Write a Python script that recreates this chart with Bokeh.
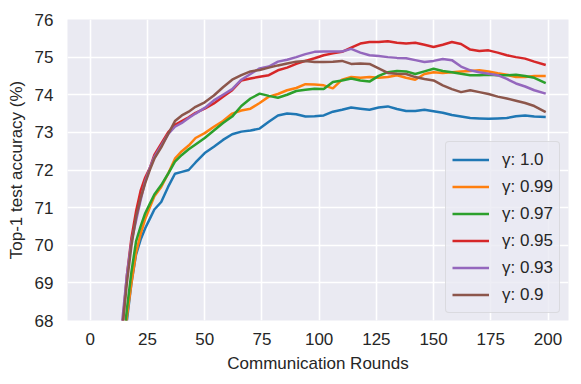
from bokeh.plotting import figure
from bokeh.models import Range1d, FixedTicker, Legend, LegendItem
from bokeh.embed import file_html
from bokeh.resources import INLINE

ROUNDS = [12, 14, 16, 18, 20, 22, 24, 26, 28, 31, 34, 37, 40, 43, 46, 50, 54, 58, 62, 66, 70,
          74, 78, 82, 86, 90, 94, 98, 102, 106, 110, 114, 118, 122, 126, 130, 134, 138, 142,
          146, 150, 154, 158, 162, 166, 170, 174, 178, 182, 186, 190, 194, 199]

ACC_100 = [65.5, 66.8, 68.0, 69.0, 69.75, 70.15, 70.45, 70.7, 70.95, 71.15, 71.55, 71.9, 71.95,
           72.0, 72.2, 72.45, 72.62, 72.8, 72.95, 73.02, 73.05, 73.1, 73.28, 73.45, 73.5, 73.48,
           73.42, 73.43, 73.45, 73.55, 73.6, 73.66, 73.63, 73.6, 73.66, 73.69, 73.62, 73.57,
           73.57, 73.6, 73.56, 73.52, 73.46, 73.42, 73.38, 73.37, 73.36, 73.37, 73.38, 73.43,
           73.45, 73.42, 73.41]
ACC_099 = [65.8, 67.0, 68.1, 69.0, 69.8, 70.3, 70.7, 71.0, 71.3, 71.55, 71.9, 72.3, 72.5, 72.65,
           72.85, 72.98, 73.15, 73.3, 73.5, 73.58, 73.63, 73.78, 73.95, 74.02, 74.12, 74.18, 74.28,
           74.27, 74.25, 74.17, 74.4, 74.47, 74.45, 74.47, 74.45, 74.47, 74.52, 74.45, 74.4, 74.55,
           74.6, 74.58, 74.6, 74.62, 74.63, 74.65, 74.62, 74.57, 74.53, 74.47, 74.47, 74.5, 74.5]
ACC_097 = [65.9, 67.1, 68.3, 69.3, 70.1, 70.5, 70.85, 71.1, 71.35, 71.6, 71.9, 72.22, 72.4, 72.55,
           72.68, 72.85, 73.05, 73.25, 73.42, 73.7, 73.9, 74.03, 73.97, 73.92, 74.0, 74.1, 74.13,
           74.16, 74.15, 74.34, 74.38, 74.43, 74.38, 74.35, 74.5, 74.6, 74.63, 74.62, 74.55, 74.62,
           74.69, 74.63, 74.6, 74.56, 74.52, 74.52, 74.53, 74.52, 74.52, 74.53, 74.5, 74.45, 74.31]
ACC_095 = [66.3, 67.8, 69.2, 70.2, 70.9, 71.45, 71.8, 72.05, 72.4, 72.7, 73.0, 73.2, 73.3, 73.4,
           73.52, 73.63, 73.77, 73.95, 74.12, 74.38, 74.43, 74.48, 74.52, 74.65, 74.72, 74.82, 74.9,
           74.97, 75.05, 75.1, 75.14, 75.25, 75.36, 75.4, 75.4, 75.42, 75.38, 75.36, 75.38, 75.33,
           75.27, 75.33, 75.4, 75.35, 75.2, 75.16, 75.18, 75.12, 75.05, 75.0, 74.96, 74.88, 74.79]
ACC_093 = [66.4, 68.0, 69.2, 70.1, 70.65, 71.2, 71.7, 72.05, 72.35, 72.65, 72.95, 73.15, 73.25,
           73.38, 73.5, 73.65, 73.85, 74.0, 74.15, 74.4, 74.55, 74.7, 74.75, 74.88, 74.93, 75.0,
           75.08, 75.14, 75.15, 75.15, 75.15, 75.22, 75.12, 75.05, 75.03, 75.0, 74.98, 74.97, 74.92,
           74.87, 74.9, 74.95, 74.92, 74.75, 74.65, 74.6, 74.56, 74.52, 74.42, 74.3, 74.22, 74.12,
           74.03]
ACC_090 = [66.2, 67.8, 69.0, 70.0, 70.75, 71.25, 71.65, 72.0, 72.3, 72.6, 72.95, 73.3, 73.45,
           73.55, 73.68, 73.8, 73.98, 74.2, 74.4, 74.52, 74.62, 74.66, 74.72, 74.78, 74.83, 74.88,
           74.9, 74.87, 74.87, 74.88, 74.9, 74.82, 74.83, 74.82, 74.7, 74.58, 74.56, 74.55, 74.47,
           74.42, 74.38, 74.25, 74.15, 74.07, 74.12, 74.07, 74.02, 73.95, 73.9, 73.84, 73.78,
           73.7, 73.54]

LABELS = ["γ: 1.0", "γ: 0.99", "γ: 0.97", "γ: 0.95", "γ: 0.93", "γ: 0.9"]
SERIES = [ACC_100, ACC_099, ACC_097, ACC_095, ACC_093, ACC_090]
COLORS = ["#1f77b4", "#ff7f0e", "#2ca02c", "#d62728", "#9467bd", "#8c564b"]
X_TICKS = [0, 25, 50, 75, 100, 125, 150, 175, 200]
Y_TICKS = [68, 69, 70, 71, 72, 73, 74, 75, 76]

FONT = "Liberation Sans"
TXT = "#262626"
FS = "17px"

p = figure(width=581, height=384, output_backend="svg", toolbar_location=None,
           x_range=Range1d(-9.95, 208.95), y_range=Range1d(68, 76),
           min_border_left=67, min_border_right=13, min_border_top=19, min_border_bottom=64)
p.background_fill_color = "#EAEAF2"
p.border_fill_color = "white"
p.outline_line_color = None

for ax in (p.xaxis, p.yaxis):
    ax.axis_line_color = None
    ax.major_tick_line_color = None
    ax.minor_tick_line_color = None
    ax.major_tick_out = 0
    ax.major_tick_in = 0
    ax.minor_tick_out = 0
    ax.major_label_text_font = FONT
    ax.major_label_text_font_size = FS
    ax.major_label_text_color = TXT
    ax.axis_label_text_font = FONT
    ax.axis_label_text_font_size = FS
    ax.axis_label_text_font_style = "normal"
    ax.axis_label_text_color = TXT

p.xaxis.ticker = FixedTicker(ticks=X_TICKS)
p.yaxis.ticker = FixedTicker(ticks=Y_TICKS)
p.xaxis.axis_label = "Communication Rounds"
p.yaxis.axis_label = "Top-1 test accuracy (%)"
p.xaxis.major_label_standoff = 12
p.yaxis.major_label_standoff = 14
p.xaxis.axis_label_standoff = 6
p.yaxis.axis_label_standoff = 6

p.grid.grid_line_color = "white"
p.grid.grid_line_width = 1.6
p.xgrid.ticker = FixedTicker(ticks=X_TICKS)
p.ygrid.ticker = FixedTicker(ticks=Y_TICKS)

items = []
for lab, ys, col in zip(LABELS, SERIES, COLORS):
    r = p.line(ROUNDS, ys, line_color=col, line_width=2.5)
    items.append(LegendItem(label=lab, renderers=[r]))

legend = Legend(items=items, location=(378, 7), margin=0, padding=6, spacing=4,
                glyph_width=37, glyph_height=23, label_height=23, label_standoff=13,
                label_text_font=FONT, label_text_font_size=FS, label_text_color=TXT,
                background_fill_color="#EAEAF2", background_fill_alpha=0.8,
                border_line_color="#cccccc", border_line_width=1.2,
                border_radius=4)
p.add_layout(legend)

open("out.html", "w").write(file_html(p, INLINE))
